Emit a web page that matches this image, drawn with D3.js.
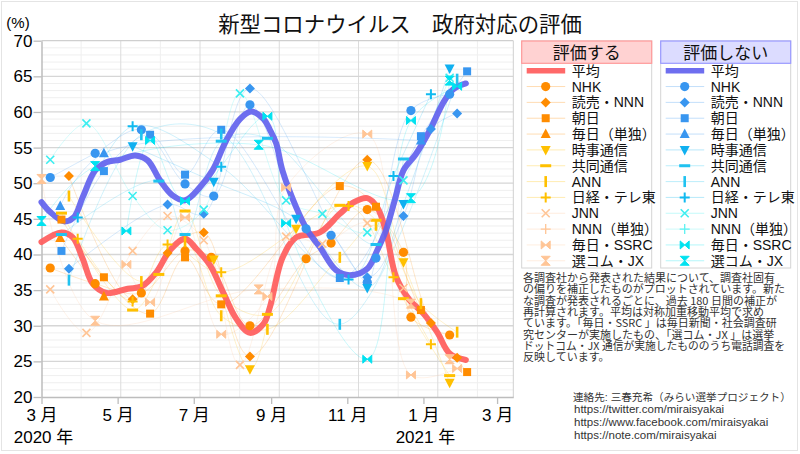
<!DOCTYPE html>
<html><head><meta charset="utf-8">
<script src="https://cdn.jsdelivr.net/npm/d3@7"></script>
<style>body{margin:0;background:#fff}svg{display:block}</style>
</head><body>
<svg id="c" width="800" height="454"></svg>
<script>
// ---------- data ----------
const pollsters = ["NHK","読売・NNN","朝日","毎日（単独）","時事通信","共同通信","ANN","日経・テレ東","JNN","NNN（単独）","毎日・SSRC","選コム・JX"];
const shapes = ["circle","diamond","square","triangle","down","dash","bar","plus","x","plus2","bowtie","hourglass"];
const approveColors = ["#FF8C00","#FF8C00","#FF8C00","#FF8C00","#FFC000","#FFC000","#FFC000","#FFC000","#FFC596","#FFC596","#FFC596","#FFC596"];
const disapproveColors = ["#3896F0","#3896F0","#3896F0","#3896F0","#10B0F0","#20C2F0","#20C2F0","#10BAF0","#3CEEF0","#5CF2F2","#00E2F0","#00E2F0"];

const approveAvg = [["2020-03-01",41.75],["2020-03-17",43.1],["2020-03-26",42.4],["2020-04-03",39.4],["2020-04-11",35.9],["2020-04-22",34.6],["2020-05-09",35.2],["2020-05-20",35.5],["2020-06-01",37.5],["2020-06-12",40.6],["2020-06-24",42.2],["2020-07-03",40.8],["2020-07-14",38.5],["2020-07-25",34.5],["2020-08-04",31.0],["2020-08-15",29.0],["2020-08-26",30.3],["2020-08-31",32.6],["2020-09-10",39.5],["2020-09-21",42.4],["2020-10-10",43.1],["2020-10-26",45.7],["2020-11-06",47.3],["2020-11-17",47.9],["2020-11-25",46.6],["2020-12-02",43.2],["2020-12-10",36.9],["2020-12-21",33.6],["2021-01-01",31.7],["2021-01-12",29.1],["2021-01-22",26.1],["2021-02-04",25.2]];
const disapproveAvg = [["2020-03-01",47.35],["2020-03-08",45.95],["2020-03-19",44.65],["2020-03-27",45.25],["2020-04-03",48.05],["2020-04-13",51.8],["2020-04-22",52.95],["2020-05-03",53.3],["2020-05-15",53.9],["2020-05-25",53.2],["2020-06-04",50.4],["2020-06-14",48.3],["2020-06-24",47.6],["2020-07-06",49.45],["2020-07-16",51.8],["2020-07-27",56.0],["2020-08-07",59.0],["2020-08-16",60.05],["2020-08-26",59.0],["2020-08-31",57.5],["2020-09-05",55.6],["2020-09-10",51.8],["2020-09-21",46.65],["2020-09-30",43.4],["2020-10-10",41.05],["2020-10-23",37.8],["2020-11-03",37.1],["2020-11-17",38.0],["2020-11-25",40.6],["2020-12-02",43.4],["2020-12-09",47.6],["2020-12-16",51.8],["2020-12-26",54.1],["2021-01-06",57.4],["2021-01-17",61.35],["2021-01-25",63.2],["2021-02-04",64.0]];

// 評価する (approve) per pollster
const apNHK = [["2020-03-08",38.1],["2020-04-13",35.9],["2020-05-20",34.6],["2020-06-24",40.5],["2020-07-15",39.6],["2020-08-15",30.0],["2020-09-29",39.4],["2020-10-19",41.6],["2020-11-17",46.3],["2020-12-16",40.3],["2020-12-22",31.2],["2021-01-22",28.7]];
const apYomiuri = [["2020-03-23",51.0],["2020-05-13",33.7],["2020-06-10",40.2],["2020-07-09",43.1],["2020-08-15",25.7],["2020-11-17",53.3],["2021-01-07",30.4],["2021-01-28",25.5]];
const apAsahi = [["2020-03-17",44.9],["2020-04-20",36.8],["2020-05-27",31.7],["2020-06-24",39.6],["2020-07-23",33.0],["2020-10-26",49.6],["2020-11-24",46.7],["2020-12-30",32.2],["2021-02-05",23.5]];
const apMainichi = [["2020-03-16",42.3],["2020-04-20",34.1]];
const apJiji = [["2020-07-17",39.3],["2020-08-15",23.9],["2020-09-21",43.6],["2020-11-17",52.4],["2020-12-16",38.9],["2021-01-22",22.0]];
const apKyodo = [["2020-03-17",45.8],["2020-05-13",32.2],["2020-06-03",37.2],["2020-06-24",46.1],["2020-07-23",34.2],["2020-08-29",31.6],["2020-10-26",46.9],["2020-11-24",44.8],["2020-12-16",33.8],["2021-01-22",23.0]];
const apANN = [["2020-03-23",48.2],["2020-05-20",36.2],["2020-06-24",41.8],["2020-07-23",31.4],["2020-08-29",29.5],["2020-10-26",39.6],["2020-11-24",44.1],["2020-12-30",33.1],["2021-01-28",29.1]];
const apNikkei = [["2020-03-30",42.2],["2020-05-13",33.4],["2020-06-10",41.4],["2020-07-23",37.5],["2020-11-02",46.8],["2020-12-08",36.8],["2021-01-07",27.4]];
const apJNN = [["2020-03-08",35.1],["2020-04-06",29.0],["2020-05-13",40.5],["2020-06-10",45.4],["2020-07-09",42.0],["2020-08-07",24.5],["2020-09-13",42.5],["2020-10-12",41.5],["2020-11-17",44.4],["2020-12-16",35.3]];
const apNNN = [];
const apSSRC = [["2020-05-08",38.6],["2020-05-27",33.3],["2020-06-24",45.2],["2020-07-23",28.8],["2020-08-29",34.1],["2020-09-13",49.4],["2020-11-17",56.9],["2020-12-22",23.1],["2021-01-28",24.0]];
const apJX = [["2020-03-01",50.6],["2020-04-13",30.7],["2020-08-22",35.1],["2020-12-22",33.1],["2021-01-22",25.3]];

// 評価しない (disapprove) per pollster
const dsNHK = [["2020-03-08",50.8],["2020-04-13",54.2],["2020-05-20",57.5],["2020-06-24",49.9],["2020-07-17",48.2],["2020-08-15",61.0],["2020-09-29",43.6],["2020-10-19",42.7],["2020-11-17",36.1],["2020-11-24",39.5],["2020-12-22",60.2],["2021-01-22",62.5]];
const dsYomiuri = [["2020-03-23",38.0],["2020-06-10",47.0],["2020-07-09",45.7],["2020-08-15",63.3],["2020-11-17",36.8],["2020-12-16",45.4],["2021-01-07",57.6],["2021-01-28",59.8]];
const dsAsahi = [["2020-03-17",40.5],["2020-04-20",51.7],["2020-05-27",56.8],["2020-06-24",51.2],["2020-07-23",57.5],["2020-10-26",36.7],["2020-12-30",56.6],["2021-02-05",65.7]];
const dsMainichi = [["2020-03-16",46.8],["2020-04-20",54.2],["2020-12-30",56.0]];
const dsJiji = [["2020-05-13",55.2],["2020-07-17",50.2],["2020-09-21",45.0],["2020-11-17",35.3],["2020-12-16",47.1],["2021-01-22",66.1]];
const dsKyodo = [["2020-03-17",42.8],["2020-06-03",50.3],["2020-06-24",42.8],["2020-07-23",55.9],["2020-08-29",56.3],["2020-11-24",41.4],["2020-12-16",53.4]];
const dsANN = [["2020-03-23",36.4],["2020-05-20",56.8],["2020-07-23",56.9],["2020-10-26",30.2],["2021-01-28",64.6]];
const dsNikkei = [["2020-03-30",45.2],["2020-05-13",58.0],["2020-07-23",52.3],["2020-11-02",36.5],["2020-12-08",51.0],["2021-01-07",62.5]];
const dsJNN = [["2020-03-08",53.3],["2020-04-06",58.4],["2020-05-13",48.2],["2020-06-10",43.4],["2020-07-09",46.3],["2020-08-07",62.6],["2020-09-13",47.6],["2020-10-12",45.7],["2020-11-17",43.1],["2020-12-16",50.4],["2021-01-22",64.8]];
const dsNNN = [];
const dsSSRC = [["2020-05-08",43.3],["2020-05-27",56.0],["2020-06-24",47.5],["2020-08-29",59.4],["2020-09-13",44.4],["2020-11-17",25.3],["2020-12-22",58.8],["2021-01-28",63.6]];
const dsJX = [["2020-03-01",44.7],["2020-04-13",52.4],["2020-08-22",55.4],["2020-12-22",47.9],["2021-01-22",64.4]];

const yTicks = [20,25,30,35,40,45,50,55,60,65,70];
const xTickDates = ["2020-03-01","2020-05-01","2020-07-01","2020-09-01","2020-11-01","2021-01-01","2021-03-01"];
const yearLabels = [["2020-03-01","2020 年"],["2021-01-01","2021 年"]];
const titleText = "新型コロナウイルス　政府対応の評価";
const groupTitles = ["評価する","評価しない"];
const noteLines = ["各調査社から発表された結果について、調査社固有","の偏りを補正したものがプロットされています。新た","な調査が発表されるごとに、過去 180 日間の補正が","再計算されます。平均は対称加重移動平均で求め","ています。「毎日・SSRC 」は毎日新聞・社会調査研","究センターが実施したもの、「選コム・JX 」は選挙","ドットコム・JX 通信が実施したもののうち電話調査を","反映しています。"];
const contactLines = ["連絡先: 三春充希（みらい選挙プロジェクト）","https://twitter.com/miraisyakai","https://www.facebook.com/miraisyakai","https://note.com/miraisyakai"];

// ---------- build ----------
const approveSeries = [apNHK,apYomiuri,apAsahi,apMainichi,apJiji,apKyodo,apANN,apNikkei,apJNN,apNNN,apSSRC,apJX];
const disapproveSeries = [dsNHK,dsYomiuri,dsAsahi,dsMainichi,dsJiji,dsKyodo,dsANN,dsNikkei,dsJNN,dsNNN,dsSSRC,dsJX];
const parse = d3.timeParse("%Y-%m-%d");
const FONT = "'Liberation Sans','Noto Sans CJK JP',sans-serif";
const JFONT = "'Noto Sans CJK JP','Liberation Sans',sans-serif";

const svg = d3.select("#c");
svg.append("rect").attr("x",1.5).attr("y",1.5).attr("width",796).attr("height",449)
  .attr("fill","#fff").attr("stroke","#e4e4e4");

const x0 = parse("2020-03-01"), x1 = parse("2021-03-14");
const x = d3.scaleTime().domain([x0,x1]).range([41.5,513.3]);
const y = d3.scaleLinear().domain([20,70]).range([397,40.7]);
const DAY = 86400000;

// grid
const g = svg.append("g");
const minorY = d3.range(21,70).filter(v=>v%5!==0);
g.selectAll(".my").data(minorY).join("line")
  .attr("x1",x(x0)).attr("x2",x(x1)).attr("y1",d=>y(d)).attr("y2",d=>y(d))
  .attr("stroke","#efefef").attr("stroke-width",1);
const vStep = 31.75;
const vLines = d3.range(1,12).map(k=>({d:new Date(x0.getTime()+k*vStep*DAY),major:k%2===0}));
g.selectAll(".vl").data(vLines).join("line")
  .attr("x1",d=>x(d.d)).attr("x2",d=>x(d.d)).attr("y1",y(70)).attr("y2",y(20))
  .attr("stroke",d=>d.major?"#dcdcdc":"#efefef").attr("stroke-width",1);
g.selectAll(".My").data(yTicks.slice(1)).join("line")
  .attr("x1",x(x0)).attr("x2",x(x1)).attr("y1",d=>y(d)).attr("y2",d=>y(d))
  .attr("stroke",d=>d===70?"#cfcfcf":"#d6d6d6").attr("stroke-width",1.3);
g.append("line").attr("x1",x(x1)).attr("x2",x(x1)).attr("y1",y(70)).attr("y2",y(20))
  .attr("stroke","#d0d0d0");

// axes
const ya = svg.append("g").attr("transform",`translate(${x(x0)},0)`)
  .call(d3.axisLeft(y).tickValues(yTicks).tickSize(8).tickPadding(1).tickSizeOuter(0));
ya.select(".domain").attr("stroke","#bdbdbd").attr("stroke-width",1.5);
ya.selectAll(".tick line").attr("stroke","#bdbdbd").attr("stroke-width",1.3);
ya.selectAll("text").attr("font-family",FONT).attr("font-size",17).attr("fill","#000");

const xa = svg.append("g").attr("transform",`translate(0,${y(20)})`)
  .call(d3.axisBottom(x).tickValues(xTickDates.map(parse)).tickSize(7).tickPadding(5)
    .tickSizeOuter(0).tickFormat(d=>(d.getMonth()+1)+" 月"));
xa.select(".domain").attr("stroke","#bdbdbd").attr("stroke-width",1.5);
xa.selectAll(".tick line").attr("stroke","#bdbdbd").attr("stroke-width",1.3);
xa.selectAll("text").attr("font-family",FONT).attr("font-size",17).attr("fill","#000");
svg.selectAll(".yr").data(yearLabels).join("text")
  .attr("x",d=>x(parse(d[0]))+2).attr("y",443).attr("text-anchor","middle")
  .attr("font-family",FONT).attr("font-size",17).attr("fill","#000").text(d=>d[1]);

// symbols
function drawMarker(sel, shape, color){
  const s = sel;
  switch(shape){
    case "circle": s.append("circle").attr("r",4.6).attr("fill",color); break;
    case "diamond": s.append("path").attr("d","M0,-5L5,0L0,5L-5,0Z").attr("fill",color); break;
    case "square": s.append("rect").attr("x",-4).attr("y",-4).attr("width",8).attr("height",8).attr("fill",color); break;
    case "triangle": s.append("path").attr("d","M0,-5.5L5,4L-5,4Z").attr("fill",color); break;
    case "down": s.append("path").attr("d","M0,5.5L5,-4L-5,-4Z").attr("fill",color); break;
    case "dash": s.append("rect").attr("x",-5.5).attr("y",-1.5).attr("width",11).attr("height",3).attr("fill",color); break;
    case "bar": s.append("rect").attr("x",-1.3).attr("y",-5.5).attr("width",2.6).attr("height",11).attr("fill",color); break;
    case "plus": s.append("path").attr("d","M-5,0H5M0,-5V5").attr("stroke",color).attr("stroke-width",2).attr("fill","none"); break;
    case "plus2": s.append("path").attr("d","M-5,0H5M0,-5V5").attr("stroke",color).attr("stroke-width",1.3).attr("fill","none"); break;
    case "x": s.append("path").attr("d","M-4,-4L4,4M4,-4L-4,4").attr("stroke",color).attr("stroke-width",1.6).attr("fill","none"); break;
    case "bowtie": s.append("path").attr("d","M-4.5,-4L0,0L-4.5,4ZM4.5,-4L0,0L4.5,4Z").attr("fill",color).attr("stroke",color).attr("stroke-width",1); break;
    case "hourglass": s.append("path").attr("d","M-4.5,-4.5H4.5L0,0ZM-4.5,4.5H4.5L0,0Z").attr("fill",color).attr("stroke",color).attr("stroke-width",1); break;
  }
}

const curve = d3.curveCatmullRom.alpha(0.5);
const line = d3.line().x(d=>x(parse(d[0]))).y(d=>y(d[1])).curve(curve);

// thin per-pollster lines
const thin = svg.append("g");
[[approveSeries,approveColors],[disapproveSeries,disapproveColors]].forEach(([ser,cols])=>{
  ser.forEach((pts,i)=>{
    if(pts.length<2) return;
    thin.append("path").attr("d",line(pts)).attr("fill","none")
      .attr("stroke",cols[i]).attr("stroke-opacity",0.2).attr("stroke-width",1);
  });
});

// averages
svg.append("path").attr("d",line(approveAvg)).attr("fill","none")
  .attr("stroke","#FF5C5C").attr("stroke-opacity",0.92).attr("stroke-width",6).attr("stroke-linecap","round");
svg.append("path").attr("d",line(disapproveAvg)).attr("fill","none")
  .attr("stroke","#6262EE").attr("stroke-opacity",0.92).attr("stroke-width",6).attr("stroke-linecap","round");

// markers
const mk = svg.append("g");
[[approveSeries,approveColors],[disapproveSeries,disapproveColors]].forEach(([ser,cols])=>{
  ser.forEach((pts,i)=>{
    pts.forEach(p=>{
      const m = mk.append("g").attr("transform",`translate(${x(parse(p[0]))},${y(p[1])})`);
      drawMarker(m, shapes[i], cols[i]);
    });
  });
});

// title
svg.append("text").attr("x",400).attr("y",32).attr("text-anchor","middle")
  .attr("font-family",JFONT).attr("font-size",21.4).attr("fill","#111").text(titleText);
svg.append("text").attr("x",18).attr("y",28).attr("text-anchor","middle")
  .attr("font-family",FONT).attr("font-size",15).attr("fill","#000").text("(%)");

// legends
const boxes = [
  {x:521.7, title:groupTitles[0], bg:"#FFD2D2", bd:"#FF9A9A", avg:"#FF5C5C", cols:approveColors},
  {x:660.7, title:groupTitles[1], bg:"#DCDCFF", bd:"#9A9AFF", avg:"#6262EE", cols:disapproveColors}
];
boxes.forEach(b=>{
  const L = svg.append("g");
  L.append("rect").attr("x",b.x).attr("y",41).attr("width",130).attr("height",227)
    .attr("fill","#fff").attr("stroke","#d4d4d4");
  L.append("rect").attr("x",b.x).attr("y",41).attr("width",130).attr("height",22.3)
    .attr("fill",b.bg).attr("stroke",b.bd).attr("stroke-width",1.2);
  L.append("text").attr("x",b.x+65).attr("y",58.5).attr("text-anchor","middle")
    .attr("font-family",JFONT).attr("font-size",17).attr("fill","#111").text(b.title);
  const rowY = i=>70.7+i*15.84;
  const lx0=b.x+5, lx1=b.x+43.5, mx=b.x+24, tx=b.x+50;
  L.append("line").attr("x1",lx0).attr("x2",lx1).attr("y1",rowY(0)).attr("y2",rowY(0))
    .attr("stroke",b.avg).attr("stroke-width",5.5).attr("stroke-opacity",0.92);
  L.append("text").attr("x",tx).attr("y",rowY(0)+5).attr("font-family",JFONT)
    .attr("font-size",14).attr("fill","#111").text("平均");
  pollsters.forEach((name,i)=>{
    const yy = rowY(i+1);
    L.append("line").attr("x1",lx0).attr("x2",lx1).attr("y1",yy).attr("y2",yy)
      .attr("stroke",b.cols[i]).attr("stroke-opacity",0.3).attr("stroke-width",1);
    drawMarker(L.append("g").attr("transform",`translate(${mx},${yy})`), shapes[i], b.cols[i]);
    L.append("text").attr("x",tx).attr("y",yy+5).attr("font-family",FONT)
      .attr("font-size",14).attr("fill","#111").text(name);
  });
});

// notes: one text block with a tspan per line
const notes = svg.append("text").attr("font-family",JFONT).attr("font-size",11).attr("fill","#333");
notes.selectAll("tspan").data(noteLines).join("tspan")
  .attr("x",523).attr("y",(d,i)=>282+i*11.35).text(d=>d)
  .each(function(){
    const w = this.getComputedTextLength();
    if (w > 262) d3.select(this).attr("textLength",262).attr("lengthAdjust","spacingAndGlyphs");
  });

// contact block
const contact = svg.append("text").attr("font-family",FONT).attr("fill","#333");
contact.selectAll("tspan").data(contactLines).join("tspan")
  .attr("x",(d,i)=>i===0?573:574).attr("y",(d,i)=>[401,413,426,439][i])
  .attr("font-size",(d,i)=>i===0?10.6:11.5).text(d=>d);
</script>
</body></html>
